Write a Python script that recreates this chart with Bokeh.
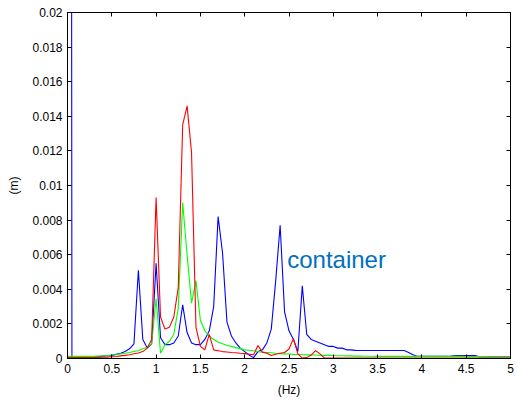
import numpy as np
from bokeh.plotting import figure
from bokeh.models import Range1d, FixedTicker, LinearAxis, Label
from bokeh.embed import file_html
from bokeh.resources import INLINE

# frequency grid (Hz), 0.05 Hz spacing
freq = np.round(np.arange(0, 101) * 0.05, 2)

blue = [0.3, 0.0001, 0.0001, 0.0001, 0.0001, 0.0001, 0.00011, 0.00012, 0.00014, 0.00016,
        0.00018, 0.00024, 0.0003, 0.0004, 0.00056, 0.00085, 0.0051, 0.0011, 0.0006, 0.00085,
        0.0055, 0.0012, 0.0008, 0.0008, 0.0009, 0.0013, 0.0031, 0.0015, 0.0009, 0.0008,
        0.0008, 0.0011, 0.0016, 0.003, 0.0082, 0.0061, 0.0021, 0.0013, 0.0009, 0.0006,
        0.0004, 0.0002, 0.00005, 0.0004, 0.0005, 0.0009, 0.0017, 0.0045, 0.0077, 0.0027,
        0.0016, 0.0011, 0.0004, 0.0042, 0.0014, 0.0011, 0.001, 0.0009, 0.0008, 0.0007,
        0.0007, 0.0006, 0.0006, 0.0005, 0.0005, 0.00047, 0.00046, 0.00046, 0.00046, 0.00046,
        0.00046, 0.00046, 0.00046, 0.00046, 0.00046, 0.00046, 0.00046, 0.00035, 0.00022, 0.00012,
        0.00012, 0.00012, 0.00012, 0.00012, 0.00012, 0.00012, 0.00012, 0.00016, 0.00017, 0.00017,
        0.00017, 0.00017, 0.00017, 0.0001, 0.0001, 0.0001, 0.0001, 0.0001, 0.0001, 0.0001,
        0.0001]

red = [0.00005, 0.00005, 0.00005, 0.00005, 0.00005, 0.00005, 0.00005, 0.00006, 0.00007, 0.00008,
       0.0001, 0.00012, 0.00015, 0.00018, 0.00022, 0.00027, 0.00032, 0.0004, 0.0006, 0.0011,
       0.0093, 0.0024, 0.0017, 0.0018, 0.0024, 0.0041, 0.0135, 0.0146, 0.0119, 0.0018,
       0.0007, 0.0005, 0.0014, 0.0005, 0.00045, 0.0004, 0.00038, 0.00035, 0.00033, 0.0003,
       0.00028, 0.00025, 0.00022, 0.00075, 0.00037, 0.0003, 0.00017, 0.00025, 0.0003, 0.00035,
       0.00055, 0.00115, 0.00027, 0.00002, 0.00005, 0.0002, 0.00045, 0.00027, 0.00002, 0.00002,
       0.00002, 0.00002, 0.00002, 0.00002, 0.00002, 0.00002, 0.00002, 0.00002, 0.00002, 0.00002,
       0.00002, 0.00002, 0.00002, 0.00002, 0.00002, 0.00002, 0.00002, 0.00002, 0.00002, 0.00002,
       0.00002, 0.00002, 0.00002, 0.00002, 0.00002, 0.00002, 0.00002, 0.00002, 0.00002, 0.00002,
       0.00002, 0.00002, 0.00002, 0.00002, 0.00002, 0.00002, 0.00002, 0.00002, 0.00002, 0.00002,
       0.00002]

green = [0.00012, 0.00012, 0.00012, 0.00012, 0.00012, 0.00012, 0.00012, 0.00013, 0.00015, 0.00017,
         0.0002, 0.00023, 0.00027, 0.0003, 0.00035, 0.0004, 0.00045, 0.00056, 0.00065, 0.00085,
         0.00345, 0.0003, 0.0008, 0.001, 0.0014, 0.0029, 0.009, 0.006, 0.0032, 0.0045,
         0.0022, 0.0016, 0.0013, 0.0011, 0.00095, 0.00085, 0.00075, 0.0007, 0.00063, 0.00057,
         0.0005, 0.00048, 0.00045, 0.0004, 0.00037, 0.00035, 0.00033, 0.0003, 0.00028, 0.00027,
         0.00026, 0.00024, 0.00023, 0.00022, 0.00021, 0.0002, 0.0002, 0.00019, 0.00018, 0.00018,
         0.00017, 0.00016, 0.00016, 0.00015, 0.00015, 0.00014, 0.00014, 0.00013, 0.00013, 0.00013,
         0.00012, 0.00012, 0.00012, 0.00012, 0.00012, 0.00012, 0.00012, 0.00012, 0.00012, 0.00012,
         0.00012, 0.00012, 0.00012, 0.00012, 0.00012, 0.00012, 0.00012, 0.00012, 0.00012, 0.00012,
         0.00011, 0.00011, 0.00011, 0.00011, 0.00011, 0.0001, 0.0001, 0.0001, 0.0001, 0.0001,
         0.0001]

x_ticks = [0, 0.5, 1, 1.5, 2, 2.5, 3, 3.5, 4, 4.5, 5]
x_tick_labels = ["0", "0.5", "1", "1.5", "2", "2.5", "3", "3.5", "4", "4.5", "5"]
y_ticks = [0, 0.002, 0.004, 0.006, 0.008, 0.01, 0.012, 0.014, 0.016, 0.018, 0.02]
y_tick_labels = ["0", "0.002", "0.004", "0.006", "0.008", "0.01", "0.012", "0.014",
                 "0.016", "0.018", "0.02"]

FONT = "Liberation Sans"

p = figure(width=517, height=400, output_backend="svg", toolbar_location=None,
           x_range=Range1d(0, 5), y_range=Range1d(0, 0.02),
           min_border_left=67, min_border_right=7, min_border_top=12, min_border_bottom=42,
           x_axis_label="(Hz)", y_axis_label="(m)")
p.background_fill_color = "white"
p.border_fill_color = "white"
p.outline_line_color = "black"
p.outline_line_width = 1
p.xgrid.visible = False
p.ygrid.visible = False

for ax, ticks, labels in ((p.xaxis[0], x_ticks, x_tick_labels), (p.yaxis[0], y_ticks, y_tick_labels)):
    ax.ticker = FixedTicker(ticks=ticks)
    ax.major_label_overrides = {t: l for t, l in zip(ticks, labels)}
    ax.major_tick_in = 4
    ax.major_tick_out = 0
    ax.minor_tick_in = 0
    ax.minor_tick_out = 0
    ax.axis_line_color = "black"
    ax.major_tick_line_color = "black"
    ax.major_label_text_font = FONT
    ax.major_label_text_font_size = "12px"
    ax.major_label_text_color = "black"
    ax.axis_label_text_font = FONT
    ax.axis_label_text_font_size = "12px"
    ax.axis_label_text_font_style = "normal"
    ax.axis_label_text_color = "black"

p.xaxis[0].major_label_standoff = 5
p.yaxis[0].major_label_standoff = 5
p.xaxis[0].axis_label_standoff = 7
p.yaxis[0].axis_label_standoff = 8

top_ax = LinearAxis(ticker=FixedTicker(ticks=x_ticks))
top_ax.major_label_overrides = {t: "" for t in x_ticks}
right_ax = LinearAxis(ticker=FixedTicker(ticks=y_ticks))
right_ax.major_label_overrides = {t: "" for t in y_ticks}
for ax in (top_ax, right_ax):
    ax.major_tick_in = 4
    ax.major_tick_out = 0
    ax.minor_tick_in = 0
    ax.minor_tick_out = 0
    ax.major_label_standoff = 0
    ax.axis_line_color = "black"
p.add_layout(top_ax, "above")
p.add_layout(right_ax, "right")

p.line(freq, blue, line_color="#0000ff", line_width=1.1)
p.line(freq, green, line_color="#00ff00", line_width=1.1)
p.line(freq, red, line_color="#ff0000", line_width=1.1)

p.add_layout(Label(x=2.48, y=0.0057, text="container", text_font=FONT,
                   text_font_size="24px", text_color="#0070c0",
                   text_baseline="alphabetic", text_align="left"))

open("out.html", "w").write(file_html(p, INLINE))
